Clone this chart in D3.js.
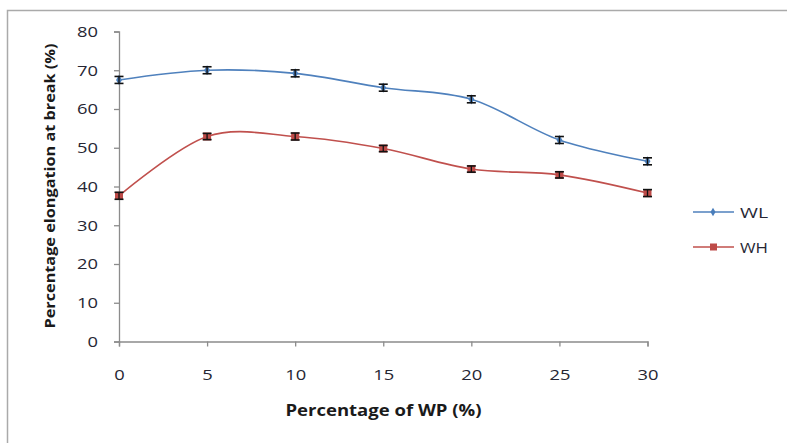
<!DOCTYPE html>
<html><head><meta charset="utf-8">
<script src="https://cdn.jsdelivr.net/npm/d3@7"></script>
<style>body{margin:0;background:#fff}svg{display:block}</style>
</head><body>
<svg id="c" width="787" height="443"></svg>
<script>
const xValues = [0, 5, 10, 15, 20, 25, 30];
const wlValues = [67.5, 70.0, 69.2, 65.5, 62.5, 52.0, 46.5];
const whValues = [37.6, 52.9, 52.9, 49.8, 44.5, 43.0, 38.3];
const wlErrors = [0.9, 0.9, 0.9, 0.9, 0.9, 0.9, 0.9];
const whErrors = [0.9, 0.8, 0.9, 0.8, 0.8, 0.8, 0.9];
const yTicks = [0, 10, 20, 30, 40, 50, 60, 70, 80];
const xTicks = [0, 5, 10, 15, 20, 25, 30];
const seriesNames = ["WL", "WH"];

const svg = d3.select("#c");
const font = "'Open Sans', 'Liberation Sans', sans-serif";

// frame
svg.append("path").attr("d", "M7.5,443 L7.5,10.5 L787,10.5")
  .attr("fill", "none").attr("stroke", "#aaa").attr("stroke-width", 1.5);

const x = d3.scaleLinear().domain([0, 30]).range([119, 647.5]);
const y = d3.scaleLinear().domain([0, 80]).range([341.5, 31.5]);

const gy = svg.append("g").attr("transform", `translate(${x(0)},0)`)
  .call(d3.axisLeft(y).tickValues(yTicks).tickSize(5).tickPadding(16));
const gx = svg.append("g").attr("transform", `translate(0,${y(0)})`)
  .call(d3.axisBottom(x).tickValues(xTicks).tickSize(5).tickPadding(23));
[gx, gy].forEach(g => {
  g.selectAll("path,line").attr("stroke", "#8c8c8c").attr("stroke-width", 1.3);
  g.selectAll("text").attr("font-family", font).attr("font-size", 15).attr("fill", "#262633")
    .attr("textLength", function() { return this.textContent.length * 10.5; })
    .attr("lengthAdjust", "spacingAndGlyphs");
});

svg.append("text").attr("x", 383.5).attr("y", 416).attr("text-anchor", "middle")
  .attr("font-family", font).attr("font-size", 16).attr("font-weight", "bold").attr("fill", "#1a1a1a")
  .attr("textLength", 196).attr("lengthAdjust", "spacingAndGlyphs")
  .text("Percentage of WP (%)");
svg.append("text").attr("transform", "translate(55,186) rotate(-90)").attr("text-anchor", "middle")
  .attr("font-family", font).attr("font-size", 15).attr("font-weight", "bold").attr("fill", "#1a1a1a")
  .attr("textLength", 285).attr("lengthAdjust", "spacingAndGlyphs")
  .text("Percentage elongation at break (%)");

const series = [
  {name: seriesNames[0], vals: wlValues, errs: wlErrors, color: "#4f81bd", mcolor: "#4a7ebb", marker: "diamond"},
  {name: seriesNames[1], vals: whValues, errs: whErrors, color: "#c0504d", mcolor: "#be4b48", marker: "square"}
];

const line = d3.line().x(d => x(d[0])).y(d => y(d[1])).curve(d3.curveCardinal.tension(0));

series.forEach(s => {
  const pts = xValues.map((v, i) => [v, s.vals[i], s.errs[i]]);
  svg.append("path").datum(pts).attr("d", line).attr("fill", "none")
    .attr("stroke", s.color).attr("stroke-width", 1.6);
  const g = svg.append("g");
  pts.forEach(p => {
    const cx = x(p[0]);
    if (s.marker === "square") {
      g.append("rect").attr("x", cx - 4).attr("y", y(p[1]) - 4).attr("width", 8).attr("height", 8)
        .attr("fill", s.mcolor);
    } else {
      g.append("path").attr("d", d3.symbol(d3.symbolDiamond, 30)()).attr("transform", `translate(${cx},${y(p[1])})`)
        .attr("fill", s.mcolor);
    }
    const y1 = y(p[1] + p[2]), y2 = y(p[1] - p[2]);
    g.append("line").attr("x1", cx).attr("x2", cx).attr("y1", y1).attr("y2", y2).attr("stroke", "#111").attr("stroke-width", 1.3);
    [y1, y2].forEach(yy => g.append("line").attr("x1", cx - 4.5).attr("x2", cx + 4.5).attr("y1", yy).attr("y2", yy)
      .attr("stroke", "#111").attr("stroke-width", 1.6));
  });
});

// legend
series.forEach((s, i) => {
  const ly = 212 + i * 35;
  svg.append("line").attr("x1", 693).attr("x2", 734).attr("y1", ly).attr("y2", ly)
    .attr("stroke", s.color).attr("stroke-width", 1.6);
  if (s.marker === "square") {
    svg.append("rect").attr("x", 710).attr("y", ly - 3.5).attr("width", 7).attr("height", 7).attr("fill", s.mcolor);
  } else {
    svg.append("path").attr("d", d3.symbol(d3.symbolDiamond, 22)()).attr("transform", `translate(713,${ly})`).attr("fill", s.mcolor);
  }
  svg.append("text").attr("x", 740).attr("y", ly + 5.5).attr("font-family", font).attr("font-size", 15)
    .attr("fill", "#262633").attr("textLength", 28).attr("lengthAdjust", "spacingAndGlyphs").text(s.name);
});
</script>
</body></html>
